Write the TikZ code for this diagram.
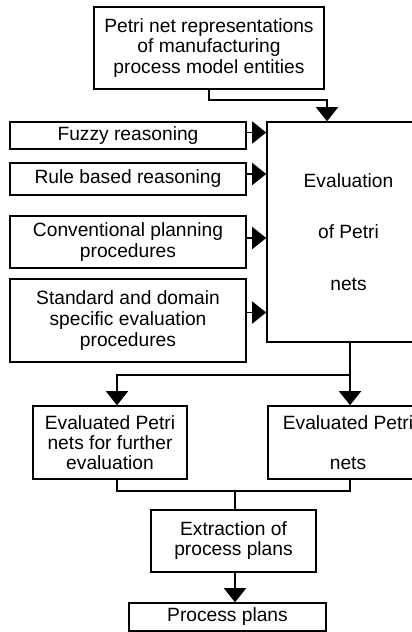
\documentclass[tikz,border=0pt]{standalone}
\usepackage{fontspec}
\setmainfont{Liberation Sans}
\usetikzlibrary{arrows.meta}

\begin{document}
\begin{tikzpicture}[x=0.5pt,y=-0.5pt,
    box/.style={draw,line width=0.8pt,align=center,inner sep=0pt,
        font=\fontsize{9.6}{10.4}\selectfont},
    ln/.style={line width=0.8pt},
    arr/.style={line width=0.8pt,-{Triangle[length=7pt,width=11pt]}}]
\useasboundingbox (0,0) rectangle (412,632);
\clip (0,0) rectangle (412,632);

\node[box,minimum width=115pt,minimum height=41pt] (rep) at (209,48) {Petri net representations\\of manufacturing\\process model entities};

\node[box,minimum width=118pt,minimum height=13.5pt] (fuzzy) at (128,135.5) {Fuzzy reasoning};
\node[box,minimum width=118pt,minimum height=16pt] (rule) at (128,179) {Rule based reasoning};
\node[box,minimum width=118pt,minimum height=26pt] (conv) at (128,242) {Conventional planning\\procedures};
\node[box,minimum width=118pt,minimum height=41.5pt] (std) at (128,320.5) {Standard and domain\\specific evaluation\\procedures};

\node[box,minimum width=81.5pt,minimum height=110pt] (eval) at (348.5,232) {Evaluation\\[15.5pt]of Petri\\[15.5pt]nets};

\node[box,minimum width=77pt,minimum height=36.5pt,font=\fontsize{9.6}{10}\selectfont] (ep1) at (110,442.5) {Evaluated Petri\\nets for further\\evaluation};
\node[box,minimum width=80pt,minimum height=36.5pt] (ep2) at (348,442.5) {Evaluated Petri\\[9.6pt]nets};

\node[box,minimum width=82.5pt,minimum height=31pt,font=\fontsize{9.6}{10}\selectfont] (extr) at (233.5,541) {Extraction of\\process plans};
\node[box,minimum width=98.5pt,minimum height=14pt] (plans) at (227.5,617) {Process plans};

\coordinate (j1) at (327,100);
\draw[arr] (rep.south) |- (j1) -- (j1 |- eval.north);

\draw[arr] ([yshift=1.5pt]fuzzy.east) -- ([yshift=1.5pt]fuzzy.east -| eval.west);
\draw[arr] ([yshift=2.5pt]rule.east) -- ([yshift=2.5pt]rule.east -| eval.west);
\draw[arr] ([yshift=2pt]conv.east) -- ([yshift=2pt]conv.east -| eval.west);
\draw[arr] ([yshift=4pt]std.east) -- ([yshift=4pt]std.east -| eval.west);

\coordinate (j2) at (350,375);
\draw[ln] (j2 |- eval.south) -- (j2);
\draw[arr] (j2) -| ([xshift=3.5pt]ep1.north);
\draw[arr] (j2) -- (j2 |- ep2.north);

\coordinate (j3) at (235,491);
\draw[ln] ([xshift=3.5pt]ep1.south) |- (j3) -| (j2 |- ep2.south);
\draw[ln] (j3) -- (j3 |- extr.north);
\draw[arr] (j3 |- extr.south) -- (j3 |- plans.north);

\end{tikzpicture}
\end{document}
